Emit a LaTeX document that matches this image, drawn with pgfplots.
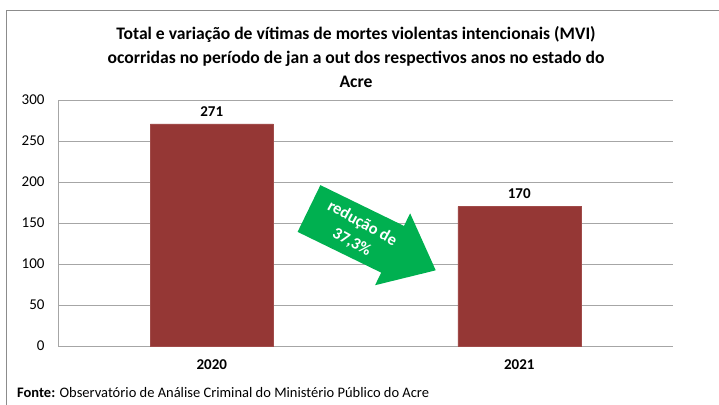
\documentclass[border=0pt]{standalone}
\usepackage{fontspec}
\setmainfont{Carlito}
\usepackage{pgfplots}
\pgfplotsset{compat=1.18}
\definecolor{barred}{HTML}{953735}
\definecolor{arrowgreen}{HTML}{00B050}
\definecolor{gridgray}{HTML}{A6A6A6}
\definecolor{framegray}{HTML}{8C8C8C}
\begin{document}
\begin{tikzpicture}[x=1bp,y=1bp]
\useasboundingbox (0,0) rectangle (719,404);
\draw[framegray,line width=1bp] (6,-2) -- (6,393) -- (721,393);
\begin{axis}[
  at={(58bp,58bp)}, anchor=origin,
  scale only axis, width=615bp, height=246bp,
  xmin=0, xmax=2, ymin=0, ymax=300,
  ytick={0,50,...,300},
  xtick={0.5,1.5}, xticklabels={2020,2021},
  axis x line=bottom, axis y line=left,
  axis line style={gridgray, line width=0.8bp, -},
  ymajorgrids, major grid style={gridgray, line width=0.8bp},
  major tick length=0pt,
  tick label style={font=\fontsize{15bp}{17bp}\selectfont, text=black},
  yticklabel style={xshift=-10bp},
  xticklabel style={font=\fontsize{15bp}{17bp}\selectfont\bfseries, yshift=-10bp},
  /pgf/number format/assume math mode=true,
  ybar, bar width=0.4,
  nodes near coords,
  every node near coord/.append style={font=\fontsize{15bp}{17bp}\selectfont\bfseries, text=black, yshift=4bp},
  clip=false,
]
\addplot[fill=barred, draw=barred!90!white] coordinates {(0.5,271) (1.5,170)};
\end{axis}
% arrow annotation
\begin{scope}[shift={(309,195.5)}, rotate=-26]
\fill[arrowgreen] (0,26) -- (93,26) -- (93,40) -- (141,0) -- (93,-40) -- (93,-26) -- (0,-26) -- cycle;
\end{scope}
\node[rotate=-29, text=white, align=center, inner sep=0pt, font=\fontsize{16.5bp}{21.5bp}\selectfont\bfseries] at (357,171) {redução de\\37,3\%};
\node[align=center, font=\fontsize{17.6bp}{24bp}\selectfont\bfseries] at (356,347) {Total e variação de vítimas de mortes violentas intencionais (MVI)\\ocorridas no período de jan a out dos respectivos anos no estado do\\Acre};
\node[anchor=base west, inner sep=0pt, font=\fontsize{14.5bp}{16bp}\selectfont] at (17,7) {\textbf{Fonte:} Observatório de Análise Criminal do Ministério Público do Acre};
\end{tikzpicture}
\end{document}
